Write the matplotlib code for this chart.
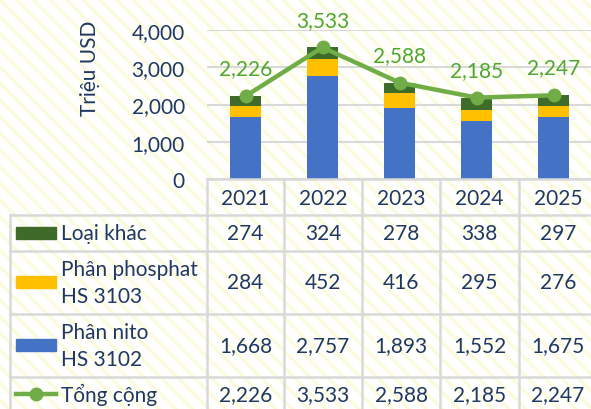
import matplotlib
matplotlib.use('Agg')
import matplotlib.pyplot as plt
from matplotlib.patches import Rectangle
from matplotlib.lines import Line2D

# du lieu (trieu USD)
nam = ['2021', '2022', '2023', '2024', '2025']
loai_khac = [274, 324, 278, 338, 297]
phosphat = [284, 452, 416, 295, 276]
nito = [1668, 2757, 1893, 1552, 1675]
tong = [2226, 3533, 2588, 2185, 2247]

c_nito = '#4472C4'
c_phos = '#FFC000'
c_khac = '#3F6B2A'
c_tong = '#70AD47'
c_text = '#1F3864'
c_grid = '#D9D9D9'

plt.rcParams['font.family'] = ['Lato', 'Noto Sans', 'DejaVu Sans']
plt.rcParams['hatch.linewidth'] = 2.2

W, H = 591, 410
fs = 15
fig = plt.figure(figsize=(W / 100, H / 100), dpi=100)
fig.patch.set_facecolor('white')
fig.patches.append(Rectangle((0, 0), 1, 1, transform=fig.transFigure,
                             facecolor='white', edgecolor='#FBFBDA',
                             hatch='\\\\', linewidth=0, zorder=-5))

# vung bieu do
x0, x1 = 207, 592
ytop, ybot = 31, 180
ax = fig.add_axes([x0 / W, 1 - ybot / H, (x1 - x0) / W, (ybot - ytop) / H])
ax.patch.set_alpha(0)
xs = list(range(len(nam)))
b1 = [a for a in nito]
b2 = [a + b for a, b in zip(nito, phosphat)]
ax.bar(xs, nito, width=0.4, color=c_nito, zorder=2)
ax.bar(xs, phosphat, width=0.4, bottom=b1, color=c_phos, zorder=2)
ax.bar(xs, loai_khac, width=0.4, bottom=b2, color=c_khac, zorder=2)
ax.plot(xs, tong, color=c_tong, lw=3.2, marker='o', ms=9, zorder=3)
for x, v in zip(xs, tong):
    ax.annotate(f'{v:,}', (x, v), xytext=(0, 20), textcoords='offset points',
                ha='center', va='center', color='#4EA72E', fontsize=fs,
                annotation_clip=False)
ax.set_xlim(-0.5, 4.5)
ax.set_ylim(0, 4000)
ax.set_yticks([0, 1000, 2000, 3000, 4000])
ax.set_yticklabels([f'{v:,}' for v in [0, 1000, 2000, 3000, 4000]])
ax.set_xticks([])
ax.grid(axis='y', color=c_grid, lw=1.5, zorder=1)
for s in ax.spines.values():
    s.set_visible(False)
ax.tick_params(axis='y', length=0, pad=16, labelsize=fs, labelcolor=c_text)
ax.set_ylabel('Triệu USD', fontsize=fs, color=c_text, va='center')
ax.yaxis.set_label_coords(-0.304, 0.75)

# bang du lieu
tb = fig.add_axes([0, 0, 1, 1])
tb.set_xlim(0, W)
tb.set_ylim(H, 0)
tb.axis('off')
tb.patch.set_alpha(0)

col_x = [207, 284, 362, 440, 519, 597]
rows_y = [216, 252, 315, 378, 412]
lc = dict(color=c_grid, lw=1.8, zorder=1)
tb.plot([207, W], [180, 180], **lc)
for y in rows_y[:-1]:
    tb.plot([10, W], [y, y], **lc)
tb.plot([10, 10], [216, H], **lc)
for x in col_x[:-1]:
    tb.plot([x, x], [180, H], **lc)

for i, n in enumerate(nam):
    cx = (col_x[i] + col_x[i + 1]) / 2
    tb.text(cx, 199, n, ha='center', va='center', fontsize=fs, color=c_text)
    tb.text(cx, 234, f'{loai_khac[i]:,}', ha='center', va='center', fontsize=fs, color=c_text)
    tb.text(cx, 283, f'{phosphat[i]:,}', ha='center', va='center', fontsize=fs, color=c_text)
    tb.text(cx, 346, f'{nito[i]:,}', ha='center', va='center', fontsize=fs, color=c_text)
    tb.text(cx, 395, f'{tong[i]:,}', ha='center', va='center', fontsize=fs, color=c_text)

rows = [(234, ['Loại khác'], c_khac),
        (283, ['Phân phosphat', 'HS 3103'], c_phos),
        (346, ['Phân nito', 'HS 3102'], c_nito)]
for yc, lab, col in rows:
    tb.add_patch(Rectangle((16, yc - 6), 40, 12, color=col, zorder=2))
    if len(lab) == 1:
        tb.text(61, yc, lab[0], ha='left', va='center', fontsize=fs, color=c_text)
    else:
        tb.text(61, yc - 13, lab[0], ha='left', va='center', fontsize=fs, color=c_text)
        tb.text(61, yc + 14, lab[1], ha='left', va='center', fontsize=fs, color=c_text)
tb.add_line(Line2D([16, 56], [395, 395], color=c_tong, lw=3.2, zorder=2))
tb.add_line(Line2D([36], [395], color=c_tong, marker='o', ms=9, zorder=3))
tb.text(61, 395, 'Tổng cộng', ha='left', va='center', fontsize=fs, color=c_text)

fig.savefig('out.png', dpi=100)
